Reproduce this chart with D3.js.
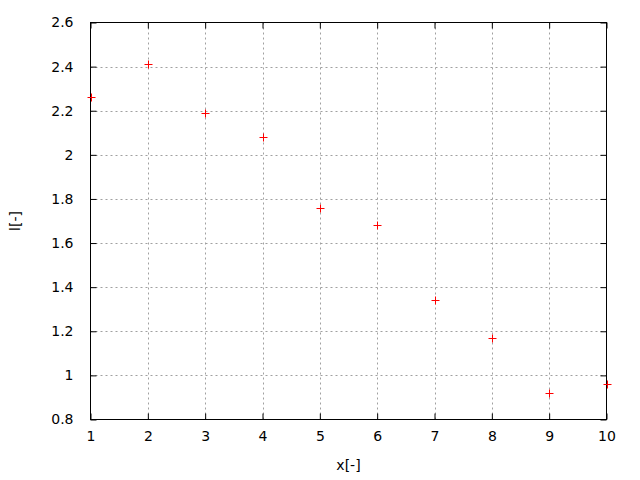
<!DOCTYPE html>
<html><head><meta charset="utf-8">
<script src="https://cdn.jsdelivr.net/npm/d3@7"></script>
<style>body{margin:0;background:#fff}svg{display:block}text{font-family:"DejaVu Sans",sans-serif;fill:#000}</style>
</head><body>
<svg id="c" width="640" height="480"></svg>
<script>
const xValues = [1,2,3,4,5,6,7,8,9,10];
const yValues = [2.26,2.41,2.19,2.08,1.76,1.68,1.34,1.17,0.92,0.96];
const xTicks = [1,2,3,4,5,6,7,8,9,10];
const yTicks = [0.8,1,1.2,1.4,1.6,1.8,2,2.2,2.4,2.6];
const xLabel = "x[-]";
const yLabel = "l[-]";

const svg = d3.select("#c");
const L=90.5, R=606.5, T=22.5, B=419.5;
const x = d3.scaleLinear().domain([1,10]).range([L,R]);
const y = d3.scaleLinear().domain([0.8,2.6]).range([B,T]);
const fs = 14;

// grid
const g = svg.append("g");
g.selectAll(".gx").data(xTicks.slice(1,-1)).enter().append("line")
  .attr("x1",d=>Math.round(x(d))+0.5).attr("x2",d=>Math.round(x(d))+0.5).attr("y1",T).attr("y2",B)
  .attr("stroke","#a0a0a0").attr("stroke-dasharray","2,3");
g.selectAll(".gy").data(yTicks.slice(1,-1)).enter().append("line")
  .attr("y1",d=>Math.round(y(d))+0.5).attr("y2",d=>Math.round(y(d))+0.5).attr("x1",L).attr("x2",R)
  .attr("stroke","#a0a0a0").attr("stroke-dasharray","2,3");

// axes with inward ticks
const tk=6;
const axB = d3.axisBottom(x).tickValues(xTicks).tickFormat(d3.format("d")).tickSizeInner(-tk).tickSizeOuter(0).tickPadding(12);
const axT = d3.axisTop(x).tickValues(xTicks).tickFormat("").tickSizeInner(-tk).tickSizeOuter(0);
const axL = d3.axisLeft(y).tickValues(yTicks).tickFormat(d=>d3.format("")(+d.toFixed(1))).tickSizeInner(-tk).tickSizeOuter(0).tickPadding(17);
const axR = d3.axisRight(y).tickValues(yTicks).tickFormat("").tickSizeInner(-tk).tickSizeOuter(0);
function style(s){ s.selectAll("path").remove(); s.selectAll("line").attr("stroke","#000"); s.selectAll("text").attr("font-size",fs).attr("font-family","DejaVu Sans, sans-serif").attr("fill","#000"); }
svg.append("g").attr("transform",`translate(0,${B})`).call(axB).call(style);
svg.append("g").attr("transform",`translate(0,${T})`).call(axT).call(style);
svg.append("g").attr("transform",`translate(${L},0)`).call(axL).call(style);
svg.append("g").attr("transform",`translate(${R},0)`).call(axR).call(style);
svg.append("rect").attr("x",L).attr("y",T).attr("width",R-L).attr("height",B-T).attr("fill","none").attr("stroke","#000");

// points
const pts = xValues.map((v,i)=>({x:v,y:yValues[i]}));
const s=4;
const pg = svg.append("g").attr("stroke","#ff0000").attr("stroke-width",1);
pts.forEach(p=>{
  const cx=Math.round(x(p.x))+0.5, cy=Math.round(y(p.y))+0.5;
  pg.append("line").attr("x1",cx-s).attr("x2",cx+s).attr("y1",cy).attr("y2",cy);
  pg.append("line").attr("x1",cx).attr("x2",cx).attr("y1",cy-s).attr("y2",cy+s);
});

// labels
svg.append("text").attr("x",(L+R)/2).attr("y",470).attr("text-anchor","middle").attr("font-size",fs).text(xLabel);
svg.append("text").attr("transform",`translate(20,${(T+B)/2}) rotate(-90)`).attr("text-anchor","middle").attr("font-size",fs).text(yLabel);
</script>
</body></html>
